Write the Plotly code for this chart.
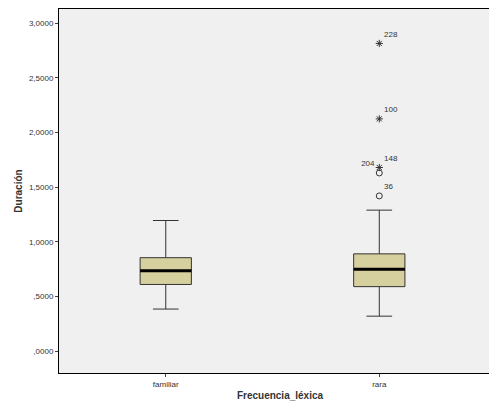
import plotly.graph_objects as go

categories = ["familiar", "rara"]
q1 = [0.61, 0.59]
median = [0.735, 0.75]
q3 = [0.855, 0.89]
lower = [0.385, 0.32]
upper = [1.195, 1.29]
out_cat = [1, 1, 1, 1, 1]
out_val = [1.42, 1.63, 1.68, 2.125, 2.815]
out_sym = ["circle-open", "circle-open", "asterisk-open", "asterisk-open", "asterisk-open"]
out_lbl = ["36", "204", "148", "100", "228"]
out_pos = ["top right", "top left", "top right", "top right", "top right"]

fig = go.Figure()
bw = 0.24
for i, c in enumerate(categories):
    fig.add_trace(go.Box(x=[i], q1=[q1[i]], median=[median[i]], q3=[q3[i]],
                         lowerfence=[lower[i]], upperfence=[upper[i]], width=bw,
                         fillcolor="#d6cf9e", line=dict(color="#333", width=1),
                         whiskerwidth=0.5, boxpoints=False, showlegend=False))
    fig.add_trace(go.Scatter(x=[i - bw / 2, i + bw / 2], y=[median[i]] * 2, mode="lines",
                             line=dict(color="black", width=3), showlegend=False))
fig.add_trace(go.Scatter(x=out_cat, y=out_val, mode="markers+text", text=out_lbl,
                         textposition=out_pos, textfont=dict(size=8, color="#333"),
                         marker=dict(symbol=out_sym, size=6, color="#333", line=dict(width=1, color="#333")),
                         showlegend=False))
fig.update_layout(
    width=497, height=407, margin=dict(l=51, r=4, t=1, b=42),
    paper_bgcolor="white", plot_bgcolor="#f0f0f0",
    font=dict(family="Arial, Liberation Sans", size=8, color="#333"),
)
fig.update_xaxes(tickvals=[0, 1], ticktext=categories, range=[-0.5, 1.57],
                 showgrid=False, zeroline=False, showline=True, mirror=True,
                 linecolor="black", ticks="outside", ticklen=3,
                 title=dict(text="<b>Frecuencia_léxica</b>", font=dict(size=10), standoff=4))
tv = [0, 0.5, 1, 1.5, 2, 2.5, 3]
fig.update_yaxes(range=[-0.2, 3.13], tickvals=tv,
                 ticktext=[",0000", ",5000", "1,0000", "1,5000", "2,0000", "2,5000", "3,0000"],
                 showgrid=False, zeroline=False, showline=True, mirror=True,
                 linecolor="black", ticks="outside", ticklen=3,
                 title=dict(text="<b>Duración</b>", font=dict(size=10), standoff=4))
fig.write_html("out.html")
